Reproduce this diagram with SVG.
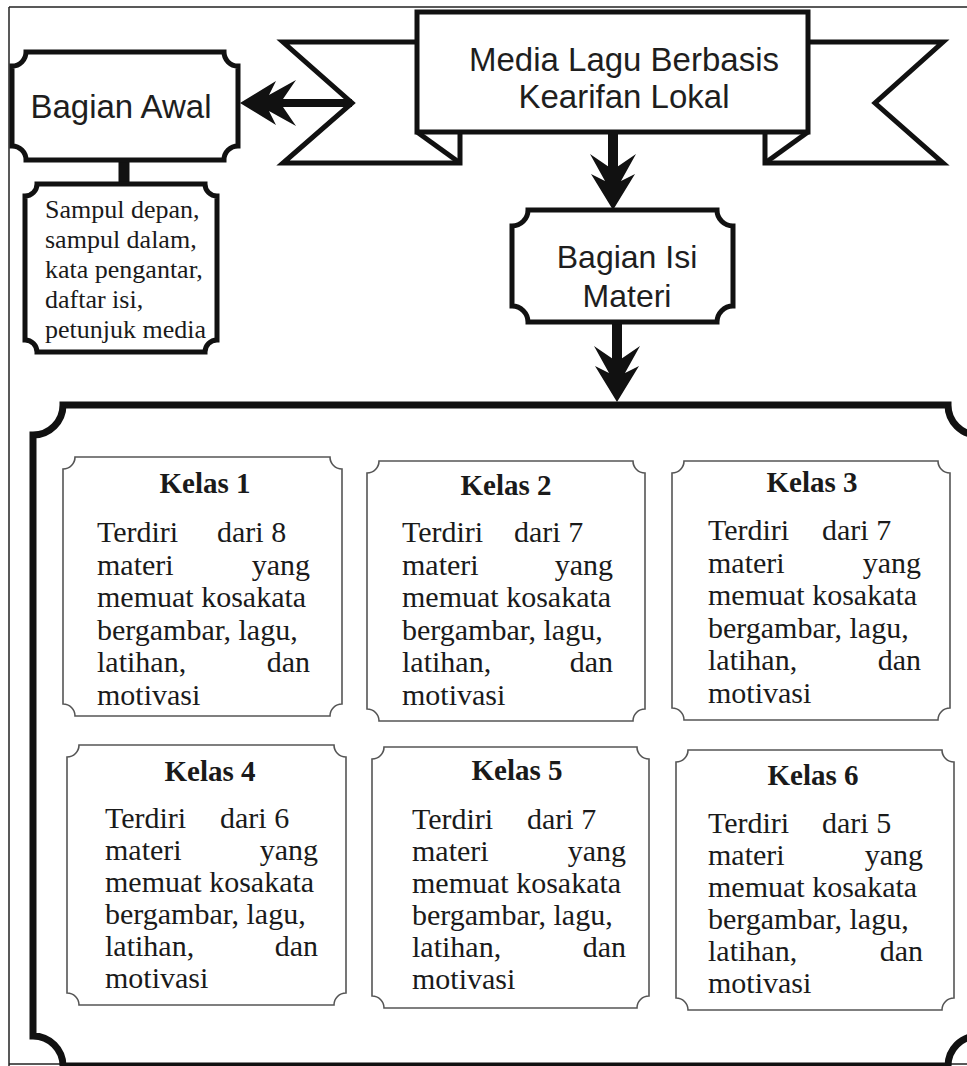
<svg xmlns="http://www.w3.org/2000/svg" xmlns:xlink="http://www.w3.org/1999/xlink" width="967" height="1066" viewBox="0 0 967 1066">
<style>
.frame{fill:none;stroke:#222;stroke-width:1.5}
.thick{fill:#fff;stroke:#111;stroke-width:5;stroke-linejoin:miter}
.cont{fill:none;stroke:#111;stroke-width:7}
.kbox{fill:#fff;stroke:#555;stroke-width:1.6}
.sans{font-family:"Liberation Sans",Arial,sans-serif;fill:#1e1e1e}
.serif{font-family:"Liberation Serif","Times New Roman",serif;fill:#1a1a1a;font-size:30px}
.title{font-family:"Liberation Serif","Times New Roman",serif;fill:#1a1a1a;font-size:29px;font-weight:bold;text-anchor:middle}
.small{font-family:"Liberation Serif","Times New Roman",serif;fill:#1a1a1a;font-size:26px}
.end{text-anchor:end}
.shaft{stroke:#111;fill:none}
.head{fill:#111}
</style>
<defs>
<path id="ah" d="M0,0 L-36,-22 L-29,-8 L-56,-23 L-43,-4 L-43,4 L-56,23 L-29,8 L-36,22 Z"/>
</defs>

<g id="frame">
<line class="frame" x1="9" y1="7" x2="967" y2="7"/>
<line class="frame" x1="9" y1="7" x2="9" y2="1066"/>
<line class="frame" x1="9" y1="1064" x2="967" y2="1064"/>
</g>

<g id="banner">
<path class="thick" d="M417,42 H283 L352,103 L283,163 H460 V132"/>
<line class="thick" x1="417" y1="132" x2="460" y2="163"/>
<path class="thick" d="M808,42 H943 L875,103 L943,163 H765 V132"/>
<line class="thick" x1="808" y1="132" x2="765" y2="163"/>
<rect class="thick" x="417" y="12" width="391" height="120"/>
<text class="sans" font-size="33" text-anchor="middle" x="624" y="71">Media Lagu Berbasis</text>
<text class="sans" font-size="33" text-anchor="middle" x="624" y="108">Kearifan Lokal</text>
</g>

<g id="container">
<path class="cont" d="M63,405 H948 A30 30 0 0 0 978,435 V1036 A30 30 0 0 0 948,1066 H63 A30 30 0 0 0 33,1036 V435 A30 30 0 0 0 63,405 Z"/>
</g>

<g id="connectors">
<line class="shaft" stroke-width="8" x1="352" y1="103" x2="280" y2="103"/>
<use href="#ah" xlink:href="#ah" class="head" transform="translate(240,103) rotate(180)"/>
<line class="shaft" stroke-width="10" x1="613" y1="132" x2="613" y2="172"/>
<use href="#ah" xlink:href="#ah" class="head" transform="translate(613,210) rotate(90)"/>
<line class="shaft" stroke-width="10" x1="617" y1="322" x2="617" y2="364"/>
<use href="#ah" xlink:href="#ah" class="head" transform="translate(617,402) rotate(90)"/>
<line class="shaft" stroke-width="11" x1="124" y1="160" x2="124" y2="184"/>
</g>

<g id="bagian-awal">
<path class="thick" d="M26,52 H224 A14 14 0 0 0 238,66 V146 A14 14 0 0 0 224,160 H26 A14 14 0 0 0 12,146 V66 A14 14 0 0 0 26,52 Z"/>
<text class="sans" font-size="33" text-anchor="middle" x="121" y="118">Bagian Awal</text>
</g>

<g id="sampul">
<path class="thick" d="M37,184 H205 A12 12 0 0 0 217,196 V340 A12 12 0 0 0 205,352 H37 A12 12 0 0 0 25,340 V196 A12 12 0 0 0 37,184 Z"/>
<text class="small" x="45" y="218">Sampul depan,</text>
<text class="small" x="45" y="248">sampul dalam,</text>
<text class="small" x="45" y="278">kata pengantar,</text>
<text class="small" x="45" y="308">daftar isi,</text>
<text class="small" x="45" y="338">petunjuk media</text>
</g>

<g id="bagian-isi">
<path class="thick" d="M528,210 H717 A16 16 0 0 0 733,226 V306 A16 16 0 0 0 717,322 H528 A16 16 0 0 0 512,306 V226 A16 16 0 0 0 528,210 Z"/>
<text class="sans" font-size="32" text-anchor="middle" x="627" y="268">Bagian Isi</text>
<text class="sans" font-size="32" text-anchor="middle" x="627" y="307">Materi</text>
</g>

<g id="kelas1">
<path class="kbox" d="M75,457 H330 A12 12 0 0 0 342,469 V704 A12 12 0 0 0 330,716 H75 A12 12 0 0 0 63,704 V469 A12 12 0 0 0 75,457 Z"/>
<text class="title" x="205" y="493">Kelas 1</text>
<text class="serif" x="97" y="542">Terdiri</text>
<text class="serif" x="217" y="542">dari 8</text>
<text class="serif" x="97" y="574.5">materi</text>
<text class="serif end" x="310" y="574.5">yang</text>
<text class="serif" x="97" y="607">memuat kosakata</text>
<text class="serif" x="97" y="639.5">bergambar, lagu,</text>
<text class="serif" x="97" y="672">latihan,</text>
<text class="serif end" x="310" y="672">dan</text>
<text class="serif" x="97" y="704.5">motivasi</text>
</g>

<g id="kelas2">
<path class="kbox" d="M379,461 H633 A12 12 0 0 0 645,473 V709 A12 12 0 0 0 633,721 H379 A12 12 0 0 0 367,709 V473 A12 12 0 0 0 379,461 Z"/>
<text class="title" x="506" y="495">Kelas 2</text>
<text class="serif" x="402" y="542">Terdiri</text>
<text class="serif" x="514" y="542">dari 7</text>
<text class="serif" x="402" y="574.5">materi</text>
<text class="serif end" x="613" y="574.5">yang</text>
<text class="serif" x="402" y="607">memuat kosakata</text>
<text class="serif" x="402" y="639.5">bergambar, lagu,</text>
<text class="serif" x="402" y="672">latihan,</text>
<text class="serif end" x="613" y="672">dan</text>
<text class="serif" x="402" y="704.5">motivasi</text>
</g>

<g id="kelas3">
<path class="kbox" d="M684,461 H938 A12 12 0 0 0 950,473 V708 A12 12 0 0 0 938,720 H684 A12 12 0 0 0 672,708 V473 A12 12 0 0 0 684,461 Z"/>
<text class="title" x="812" y="492">Kelas 3</text>
<text class="serif" x="708" y="540">Terdiri</text>
<text class="serif" x="822" y="540">dari 7</text>
<text class="serif" x="708" y="572.5">materi</text>
<text class="serif end" x="921" y="572.5">yang</text>
<text class="serif" x="708" y="605">memuat kosakata</text>
<text class="serif" x="708" y="637.5">bergambar, lagu,</text>
<text class="serif" x="708" y="670">latihan,</text>
<text class="serif end" x="921" y="670">dan</text>
<text class="serif" x="708" y="702.5">motivasi</text>
</g>

<g id="kelas4">
<path class="kbox" d="M79,745 H334 A12 12 0 0 0 346,757 V993 A12 12 0 0 0 334,1005 H79 A12 12 0 0 0 67,993 V757 A12 12 0 0 0 79,745 Z"/>
<text class="title" x="210" y="781">Kelas 4</text>
<text class="serif" x="105" y="828">Terdiri</text>
<text class="serif" x="220" y="828">dari 6</text>
<text class="serif" x="105" y="860">materi</text>
<text class="serif end" x="318" y="860">yang</text>
<text class="serif" x="105" y="892">memuat kosakata</text>
<text class="serif" x="105" y="924">bergambar, lagu,</text>
<text class="serif" x="105" y="956">latihan,</text>
<text class="serif end" x="318" y="956">dan</text>
<text class="serif" x="105" y="988">motivasi</text>
</g>

<g id="kelas5">
<path class="kbox" d="M384,747 H637 A12 12 0 0 0 649,759 V996 A12 12 0 0 0 637,1008 H384 A12 12 0 0 0 372,996 V759 A12 12 0 0 0 384,747 Z"/>
<text class="title" x="517" y="780">Kelas 5</text>
<text class="serif" x="412" y="829">Terdiri</text>
<text class="serif" x="527" y="829">dari 7</text>
<text class="serif" x="412" y="861">materi</text>
<text class="serif end" x="626" y="861">yang</text>
<text class="serif" x="412" y="893">memuat kosakata</text>
<text class="serif" x="412" y="925">bergambar, lagu,</text>
<text class="serif" x="412" y="957">latihan,</text>
<text class="serif end" x="626" y="957">dan</text>
<text class="serif" x="412" y="989">motivasi</text>
</g>

<g id="kelas6">
<path class="kbox" d="M688,750 H942 A12 12 0 0 0 954,762 V998 A12 12 0 0 0 942,1010 H688 A12 12 0 0 0 676,998 V762 A12 12 0 0 0 688,750 Z"/>
<text class="title" x="813" y="785">Kelas 6</text>
<text class="serif" x="708" y="833">Terdiri</text>
<text class="serif" x="822" y="833">dari 5</text>
<text class="serif" x="708" y="865">materi</text>
<text class="serif end" x="923" y="865">yang</text>
<text class="serif" x="708" y="897">memuat kosakata</text>
<text class="serif" x="708" y="929">bergambar, lagu,</text>
<text class="serif" x="708" y="961">latihan,</text>
<text class="serif end" x="923" y="961">dan</text>
<text class="serif" x="708" y="993">motivasi</text>
</g>
</svg>
